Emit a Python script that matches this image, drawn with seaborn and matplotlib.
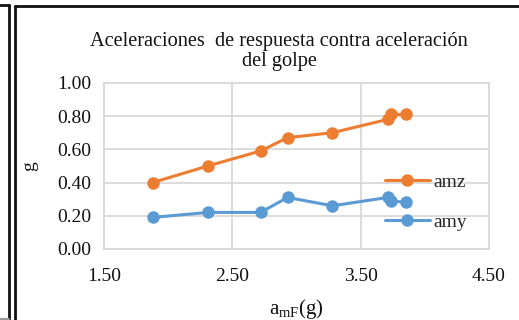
import matplotlib
matplotlib.use("Agg")
import matplotlib.pyplot as plt
from matplotlib.lines import Line2D
import seaborn as sns
import pandas as pd

# values
a_mF = [1.88, 2.31, 2.72, 2.93, 3.28, 3.71, 3.74, 3.85]
amz = [0.40, 0.50, 0.59, 0.67, 0.70, 0.78, 0.81, 0.81]
amy = [0.19, 0.22, 0.22, 0.31, 0.26, 0.31, 0.29, 0.28]

x_ticks = [1.5, 2.5, 3.5, 4.5]
y_ticks = [0.0, 0.2, 0.4, 0.6, 0.8, 1.0]

sns.set_style("white")
plt.rcParams['font.family'] = ['Liberation Serif', 'DejaVu Serif']
plt.rcParams['mathtext.fontset'] = 'custom'
plt.rcParams['mathtext.rm'] = 'Liberation Serif'

df = pd.DataFrame({'a_mF': a_mF, 'amz': amz, 'amy': amy})

fig = plt.figure(figsize=(5.19, 3.20), dpi=100)
ax = fig.add_axes([0.2004, 0.222, 0.7418, 0.519])

grid_c = '#d9d9d9'
sns.lineplot(data=df, x='a_mF', y='amz', ax=ax, color='#ED7D31', marker='o',
             markersize=9, linewidth=2.2, markeredgewidth=0, label='amz',
             estimator=None, sort=True)
sns.lineplot(data=df, x='a_mF', y='amy', ax=ax, color='#5B9BD5', marker='o',
             markersize=9, linewidth=2.2, markeredgewidth=0, label='amy',
             estimator=None, sort=True)

ax.set_xlim(1.5, 4.5)
ax.set_ylim(0, 1.0)
ax.set_xticks(x_ticks)
ax.set_xticklabels([f'{v:.2f}' for v in x_ticks])
ax.set_yticks(y_ticks)
ax.set_yticklabels([f'{v:.2f}' for v in y_ticks])
ax.tick_params(length=0, labelsize=14, colors='#111111', pad=9)
ax.tick_params(axis='x', pad=14)
ax.grid(True, color=grid_c, linewidth=1.3)
ax.set_axisbelow(True)
for s in ax.spines.values():
    s.set_color(grid_c)
    s.set_linewidth(1.3)

ax.set_title('Aceleraciones  de respuesta contra aceleración\ndel golpe',
             fontsize=14.6, linespacing=1.08, pad=12, x=0.455, color='#111111')
ax.set_xlabel(r'$\mathrm{a_{mF}(g)}$', fontsize=15, labelpad=8, color='#111111')
ax.set_ylabel('g', fontsize=14, labelpad=14, color='#111111')

ax.legend(loc='center left', bbox_to_anchor=(0.71, 0.283), frameon=False,
          fontsize=14, handlelength=2.3, handletextpad=0.2, labelspacing=1.15,
          borderaxespad=0)

# surrounding frame lines
k = '#111111'
fig.add_artist(Line2D([0.0, 0.017], [0.983, 0.983], color=k, lw=2, transform=fig.transFigure))
fig.add_artist(Line2D([0.017, 0.017], [0.0, 0.983], color=k, lw=2, transform=fig.transFigure))
fig.add_artist(Line2D([0.0, 0.017], [0.004, 0.004], color='#999999', lw=1.5, transform=fig.transFigure))
fig.add_artist(Line2D([0.028, 0.028], [0.0, 0.981], color=k, lw=2, transform=fig.transFigure))
fig.add_artist(Line2D([0.028, 1.0], [0.981, 0.981], color=k, lw=2, transform=fig.transFigure))

fig.savefig('out.png', dpi=100)
